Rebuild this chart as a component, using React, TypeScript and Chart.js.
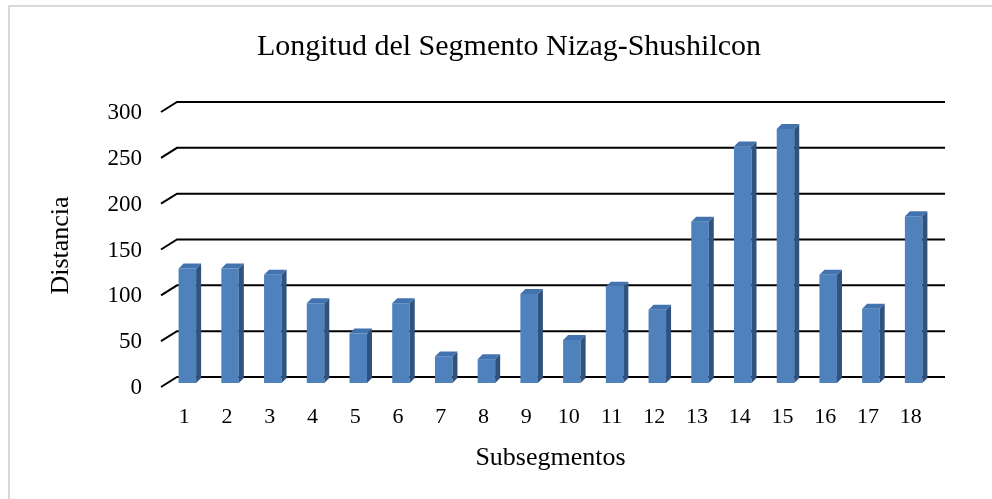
import React, { useEffect, useRef } from "react";
import { Chart, registerables } from "chart.js";

Chart.register(...registerables);

const chartTitle = "Longitud del Segmento Nizag-Shushilcon";
const xAxisTitle = "Subsegmentos";
const yAxisTitle = "Distancia";
const categories = ["1", "2", "3", "4", "5", "6", "7", "8", "9", "10", "11", "12", "13", "14", "15", "16", "17", "18"];
const distances = [125, 125, 118, 87, 54, 87, 29, 26, 97, 47, 105, 80, 176, 258, 277, 118, 81, 182];
const yMin = 0;
const yMax = 300;
const yStep = 50;

const FRONT = "#4F81BD";
const SIDE = "#30527F";
const TOP = "#4273AE";
const FONT = "'Liberation Serif', 'Times New Roman', serif";

// 3D-look plugin: back-wall gridlines with a slanted floor edge, and bar side/top faces
const wall3d = {
  id: "wall3d",
  beforeDatasetsDraw(chart: any) {
    const { ctx, chartArea, scales } = chart;
    const y = scales.y;
    ctx.save();
    ctx.strokeStyle = "#000";
    ctx.lineWidth = 2;
    y.ticks.forEach((t: any) => {
      const yf = y.getPixelForValue(t.value);
      const yb = yf - 6;
      ctx.beginPath();
      ctx.moveTo(chartArea.left - 5, yf + 4);
      ctx.lineTo(chartArea.left + 11, yb);
      ctx.lineTo(chartArea.right + 10, yb);
      ctx.stroke();
    });
    ctx.restore();
  },
  afterDatasetsDraw(chart: any) {
    const { ctx } = chart;
    const meta = chart.getDatasetMeta(0);
    const dx = 5;
    const dy = 5;
    ctx.save();
    meta.data.forEach((bar: any) => {
      const { x, y, base, width } = bar.getProps(["x", "y", "base", "width"], true);
      const l = x - width / 2;
      const r = x + width / 2;
      ctx.fillStyle = SIDE;
      ctx.beginPath();
      ctx.moveTo(r, y);
      ctx.lineTo(r + dx, y - dy);
      ctx.lineTo(r + dx, base - dy);
      ctx.lineTo(r, base);
      ctx.closePath();
      ctx.fill();
      ctx.fillStyle = TOP;
      ctx.beginPath();
      ctx.moveTo(l, y);
      ctx.lineTo(l + dx, y - dy);
      ctx.lineTo(r + dx, y - dy);
      ctx.lineTo(r, y);
      ctx.closePath();
      ctx.fill();
    });
    ctx.restore();
  },
};

export default function App() {
  const ref = useRef<HTMLCanvasElement | null>(null);

  useEffect(() => {
    if (!ref.current) return;
    const chart = new Chart(ref.current, {
      type: "bar",
      data: {
        labels: categories,
        datasets: [
          {
            data: distances,
            backgroundColor: FRONT,
            borderWidth: 0,
            barPercentage: 0.41,
            categoryPercentage: 1,
          },
        ],
      },
      options: {
        animation: false,
        responsive: false,
        maintainAspectRatio: false,
        layout: { padding: { left: 0, right: 57, top: 108, bottom: 0 } },
        plugins: {
          legend: { display: false },
          tooltip: { enabled: false },
          title: { display: false },
        },
        scales: {
          x: {
            grid: { display: false, drawTicks: false },
            border: { display: false },
            ticks: {
              color: "#000",
              font: { family: FONT, size: 22 },
              padding: 21,
              labelOffset: -3,
              maxRotation: 0,
              autoSkip: false,
            },
            title: {
              display: true,
              text: xAxisTitle,
              color: "#000",
              font: { family: FONT, size: 26, lineHeight: 1.2 },
              padding: { top: 0, bottom: 25 },
            },
            afterFit: (s: any) => {
              s.height = 116;
            },
          },
          y: {
            min: yMin,
            max: yMax,
            grid: { display: false, drawTicks: false },
            border: { display: false },
            ticks: {
              stepSize: yStep,
              color: "#000",
              font: { family: FONT, size: 23 },
              padding: 24,
              labelOffset: 5,
            },
            title: {
              display: true,
              text: yAxisTitle,
              color: "#000",
              font: { family: FONT, size: 26, lineHeight: 1.2 },
              padding: { top: 46, bottom: 0 },
            },
            afterFit: (s: any) => {
              s.width = 166;
            },
          },
        },
      },
      plugins: [wall3d],
    });
    return () => chart.destroy();
  }, []);

  return (
    <div>
      <div
        style={{
          position: "fixed",
          left: 8,
          top: 5,
          right: 0,
          bottom: 0,
          borderTop: "2px solid #d9d9d9",
          borderLeft: "2px solid #d9d9d9",
        }}
      />
      <canvas
        ref={ref}
        width={992}
        height={499}
        style={{ position: "fixed", left: 0, top: 0, width: 992, height: 499 }}
      />
      <div
        style={{
          position: "fixed",
          left: 0,
          top: 27,
          width: 1018,
          textAlign: "center",
          fontFamily: FONT,
          fontSize: 30,
          lineHeight: "36px",
          color: "#000",
          whiteSpace: "nowrap",
        }}
      >
        {chartTitle}
      </div>
    </div>
  );
}
